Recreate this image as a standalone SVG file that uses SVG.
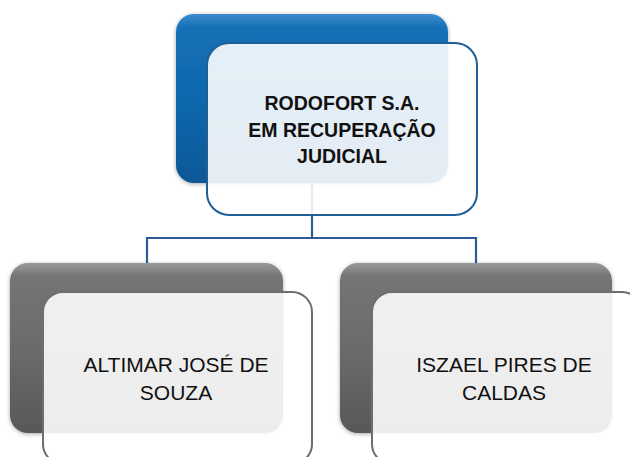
<svg xmlns="http://www.w3.org/2000/svg" width="630" height="457" viewBox="0 0 630 457">
<style>
.title{font-family:"Liberation Sans",Arial,sans-serif;font-weight:bold;font-size:19.5px;fill:#111;text-anchor:middle}
.lbl{font-family:"Liberation Sans",Arial,sans-serif;font-size:21px;fill:#111;text-anchor:middle}
.front{fill:#ffffff;fill-opacity:0.89;stroke-width:2}
.conn{fill:none;stroke:#2c5a9a;stroke-width:2.2}
</style>
<defs>
<linearGradient id="gb" x1="0" y1="0" x2="0" y2="1">
<stop offset="0" stop-color="#3d8ccc"/>
<stop offset="0.08" stop-color="#1570b6"/>
<stop offset="0.5" stop-color="#0f68ad"/>
<stop offset="1" stop-color="#0b5796"/>
</linearGradient>
<linearGradient id="gg" x1="0" y1="0" x2="0" y2="1">
<stop offset="0" stop-color="#9a9a9a"/>
<stop offset="0.08" stop-color="#747474"/>
<stop offset="0.5" stop-color="#6b6b6b"/>
<stop offset="1" stop-color="#585858"/>
</linearGradient>
<filter id="sh" x="-10%" y="-10%" width="120%" height="125%">
<feGaussianBlur in="SourceAlpha" stdDeviation="2"/>
<feOffset dx="0" dy="1" result="b"/>
<feComponentTransfer><feFuncA type="linear" slope="0.35"/></feComponentTransfer>
<feMerge><feMergeNode/><feMergeNode in="SourceGraphic"/></feMerge>
</filter>
</defs>
<g id="connectors">
<path class="conn" d="M312 184 V238 M147 238 H476 M147 237 V263 M476 237 V263"/>
</g>
<g id="node-rodofort">
<rect x="176" y="14" width="272" height="169" rx="18" fill="url(#gb)" filter="url(#sh)"/>
<rect class="front" x="207" y="43" width="270" height="172" rx="22" stroke="#1f5f96"/>
<text class="title" x="342" y="110">RODOFORT S.A.</text>
<text class="title" x="342" y="137">EM RECUPERAÇÃO</text>
<text class="title" x="342" y="163">JUDICIAL</text>
</g>
<g id="node-altimar">
<rect x="10" y="263" width="273" height="170" rx="18" fill="url(#gg)" filter="url(#sh)"/>
<rect class="front" x="43" y="292" width="269" height="172" rx="20" stroke="#6e6e6e"/>
<text class="lbl" x="176" y="372">ALTIMAR JOSÉ DE</text>
<text class="lbl" x="176" y="400">SOUZA</text>
</g>
<g id="node-iszael">
<rect x="340" y="263" width="272" height="170" rx="18" fill="url(#gg)" filter="url(#sh)"/>
<rect class="front" x="372" y="292" width="270" height="172" rx="20" stroke="#6e6e6e"/>
<text class="lbl" x="504" y="372">ISZAEL PIRES DE</text>
<text class="lbl" x="504" y="400">CALDAS</text>
</g>
</svg>
